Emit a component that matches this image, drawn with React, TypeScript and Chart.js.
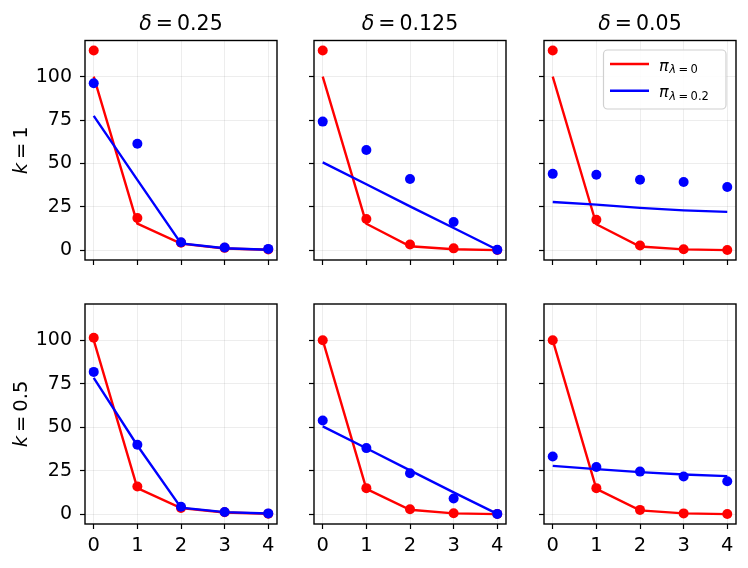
import React, { useEffect, useRef } from "react";
import Chart from "chart.js/auto";

const steps = [0, 1, 2, 3, 4];
const xTickValues = [0, 1, 2, 3, 4];
const yTickValues = [0, 25, 50, 75, 100];
const deltaLabels = ["0.25", "0.125", "0.05"];
const kLabels = ["1", "0.5"];
const lambdaLabels = ["0", "0.2"];

// k = 1, delta = 0.25
const redLineA = [100, 15.3, 3.8, 1.0, 0.3];
const redDotsA = [115, 18.6, 4.4, 1.4, 0.5];
const blueLineA = [77.4, 40.5, 4.0, 1.2, 0.3];
const blueDotsA = [96.2, 61.3, 4.6, 1.6, 0.8];
// k = 1, delta = 0.125
const redLineB = [100, 15.3, 2.3, 0.6, 0.1];
const redDotsB = [115, 18.0, 3.3, 1.1, 0.2];
const blueLineB = [50.6, 38.0, 25.3, 12.8, 0.3];
const blueDotsB = [74.1, 57.7, 41.0, 16.3, 0.3];
// k = 1, delta = 0.05
const redLineC = [100, 15.0, 2.2, 0.5, 0.1];
const redDotsC = [115, 17.6, 2.7, 0.6, 0.2];
const blueLineC = [27.8, 26.3, 24.4, 23.0, 22.1];
const blueDotsC = [44.0, 43.5, 40.6, 39.3, 36.4];
// k = 0.5, delta = 0.25
const redLineD = [100, 15.0, 3.5, 1.0, 0.3];
const redDotsD = [101.4, 15.9, 3.6, 1.1, 0.3];
const blueLineD = [78.3, 39.5, 3.8, 1.2, 0.4];
const blueDotsD = [81.8, 39.9, 4.3, 1.3, 0.5];
// k = 0.5, delta = 0.125
const redLineE = [100, 14.6, 2.6, 0.5, 0.1];
const redDotsE = [100, 15.0, 2.9, 0.6, 0.1];
const blueLineE = [50.5, 37.9, 25.2, 12.6, 0.2];
const blueDotsE = [53.9, 38.0, 23.6, 9.0, 0.2];
// k = 0.5, delta = 0.05
const redLineF = [100, 14.6, 2.2, 0.5, 0.1];
const redDotsF = [100, 15.0, 2.5, 0.5, 0.1];
const blueLineF = [27.8, 25.9, 24.2, 22.8, 21.9];
const blueDotsF = [33.2, 27.1, 24.5, 21.7, 19.0];

const panels = [
  { row: 0, col: 0, redLine: redLineA, redDots: redDotsA, blueLine: blueLineA, blueDots: blueDotsA },
  { row: 0, col: 1, redLine: redLineB, redDots: redDotsB, blueLine: blueLineB, blueDots: blueDotsB },
  { row: 0, col: 2, redLine: redLineC, redDots: redDotsC, blueLine: blueLineC, blueDots: blueDotsC },
  { row: 1, col: 0, redLine: redLineD, redDots: redDotsD, blueLine: blueLineD, blueDots: blueDotsD },
  { row: 1, col: 1, redLine: redLineE, redDots: redDotsE, blueLine: blueLineE, blueDots: blueDotsE },
  { row: 1, col: 2, redLine: redLineF, redDots: redDotsF, blueLine: blueLineF, blueDots: blueDotsF },
];

const W = 748;
const H = 568;
const colLeft = [85, 314, 544];
const panelW = 192;
const rowTop = [40.5, 304];
const rowBottom = [260, 524];
const Y_AXIS_W = 60;
const X_AXIS_H = 40;
const FONT = "'DejaVu Sans', sans-serif";
const RED = "#ff0000";
const BLUE = "#0000ff";

type Piece = { t: string; italic?: boolean; size: number; dy?: number; gap?: number };

const setFont = (ctx: CanvasRenderingContext2D, p: Piece) => {
  ctx.font = `${p.italic ? "italic " : ""}${p.size}px ${FONT}`;
};

const piecesWidth = (ctx: CanvasRenderingContext2D, pieces: Piece[]) => {
  let w = 0;
  pieces.forEach((p) => {
    setFont(ctx, p);
    w += ctx.measureText(p.t).width + (p.gap || 0);
  });
  return w;
};

// left aligned on baseline y
const drawPieces = (ctx: CanvasRenderingContext2D, pieces: Piece[], x: number, y: number) => {
  ctx.textAlign = "left";
  ctx.textBaseline = "alphabetic";
  ctx.fillStyle = "#000";
  let cx = x;
  pieces.forEach((p) => {
    setFont(ctx, p);
    ctx.fillText(p.t, cx, y + (p.dy || 0));
    cx += ctx.measureText(p.t).width + (p.gap || 0);
  });
};

const eqPieces = (sym: string, value: string, size: number, gap: number): Piece[] => [
  { t: sym, italic: true, size, gap },
  { t: "=", size, gap },
  { t: value, size },
];

const toXY = (vals: number[]) => vals.map((v, i) => ({ x: steps[i], y: v }));

const decorations = {
  id: "decorations",
  afterDraw(chart: any, _args: any, opts: any) {
    const ctx: CanvasRenderingContext2D = chart.ctx;
    const a = chart.chartArea;
    ctx.save();
    // frame
    ctx.strokeStyle = "#000";
    ctx.lineWidth = 1.4;
    ctx.strokeRect(a.left, a.top, a.right - a.left, a.bottom - a.top);

    if (opts.title) {
      const pcs = eqPieces("δ", opts.title, 20.5, 4);
      const w = piecesWidth(ctx, pcs);
      drawPieces(ctx, pcs, (a.left + a.right) / 2 - w / 2, 30);
    }
    if (opts.rowLabel) {
      const pcs = eqPieces("k", opts.rowLabel, 19.5, 4);
      const w = piecesWidth(ctx, pcs);
      ctx.save();
      ctx.translate(26.5, (a.top + a.bottom) / 2);
      ctx.rotate(-Math.PI / 2);
      drawPieces(ctx, pcs, -w / 2, 0);
      ctx.restore();
    }
    if (opts.legend) {
      const bx = 603.5;
      const by = 50;
      const bw = 122.5;
      const bh = 59;
      ctx.beginPath();
      ctx.roundRect(bx, by, bw, bh, 4);
      ctx.fillStyle = "rgba(255,255,255,0.85)";
      ctx.fill();
      ctx.strokeStyle = "#d0d0d0";
      ctx.lineWidth = 1.2;
      ctx.stroke();
      const rowsY = [64, 90.7];
      const textY = [70.5, 97];
      const colors = [RED, BLUE];
      lambdaLabels.forEach((lab, i) => {
        ctx.strokeStyle = colors[i];
        ctx.lineWidth = 2.4;
        ctx.beginPath();
        ctx.moveTo(610, rowsY[i]);
        ctx.lineTo(649, rowsY[i]);
        ctx.stroke();
        const pcs: Piece[] = [
          { t: "π", italic: true, size: 16, gap: 0.5 },
          { t: "λ", italic: true, size: 11.5, dy: 2.7, gap: 2.5 },
          { t: "=", size: 11.5, dy: 2.7, gap: 2.5 },
          { t: lab, size: 11.5, dy: 2.7 },
        ];
        drawPieces(ctx, pcs, 659, textY[i]);
      });
    }
    ctx.restore();
  },
};

const Panel: React.FC<{ index: number }> = ({ index }) => {
  const canvasRef = useRef<HTMLCanvasElement | null>(null);
  const chartRef = useRef<Chart | null>(null);

  useEffect(() => {
    if (!canvasRef.current) return;
    if (chartRef.current) chartRef.current.destroy();
    const p = panels[index];
    const left = colLeft[p.col];
    const right = left + panelW;
    const top = rowTop[p.row];
    const bottom = rowBottom[p.row];
    const showX = p.row === 1;
    const showY = p.col === 0;

    chartRef.current = new Chart(canvasRef.current, {
      type: "scatter",
      data: {
        datasets: [
          { label: "blueDots", data: toXY(p.blueDots), showLine: false, pointRadius: 5, pointBackgroundColor: BLUE, pointBorderWidth: 0 },
          { label: "blueLine", data: toXY(p.blueLine), showLine: true, pointRadius: 0, borderColor: BLUE, borderWidth: 2.4 },
          { label: "redDots", data: toXY(p.redDots), showLine: false, pointRadius: 5, pointBackgroundColor: RED, pointBorderWidth: 0 },
          { label: "redLine", data: toXY(p.redLine), showLine: true, pointRadius: 0, borderColor: RED, borderWidth: 2.4 },
        ],
      },
      options: {
        responsive: false,
        animation: false,
        events: [],
        layout: {
          padding: { left: left - Y_AXIS_W, top: top, right: W - right, bottom: H - bottom - X_AXIS_H },
        },
        plugins: {
          legend: { display: false },
          tooltip: { enabled: false },
          decorations: {
            title: p.row === 0 ? deltaLabels[p.col] : null,
            rowLabel: p.col === 0 ? kLabels[p.row] : null,
            legend: p.row === 0 && p.col === 2,
          },
        } as any,
        scales: {
          x: {
            type: "linear",
            min: -0.2,
            max: 4.2,
            afterBuildTicks: (s: any) => {
              s.ticks = xTickValues.map((v) => ({ value: v }));
            },
            afterFit: (s: any) => {
              s.height = X_AXIS_H;
            },
            border: { display: false },
            grid: { color: "rgba(0,0,0,0.09)", lineWidth: 0.8, tickColor: "#000", tickWidth: 1.2, tickLength: 5 },
            ticks: { display: showX, color: "#000", font: { family: FONT, size: 19.5 }, padding: 5, maxRotation: 0 },
          },
          y: {
            type: "linear",
            min: -5.6,
            max: 120.8,
            afterBuildTicks: (s: any) => {
              s.ticks = yTickValues.map((v) => ({ value: v }));
            },
            afterFit: (s: any) => {
              s.width = Y_AXIS_W;
            },
            border: { display: false },
            grid: { color: "rgba(0,0,0,0.09)", lineWidth: 0.8, tickColor: "#000", tickWidth: 1.2, tickLength: 5 },
            ticks: { display: showY, color: "#000", font: { family: FONT, size: 19 }, padding: 8 },
          },
        },
      },
      plugins: [decorations],
    } as any);

    return () => {
      if (chartRef.current) {
        chartRef.current.destroy();
        chartRef.current = null;
      }
    };
  }, [index]);

  return (
    <canvas
      ref={canvasRef}
      width={W}
      height={H}
      style={{ position: "absolute", left: 0, top: 0, width: W, height: H }}
    />
  );
};

export default function App() {
  return (
    <div style={{ position: "absolute", left: 0, top: 0, width: W, height: H, background: "#fff" }}>
      {panels.map((_, i) => (
        <Panel key={i} index={i} />
      ))}
    </div>
  );
}
